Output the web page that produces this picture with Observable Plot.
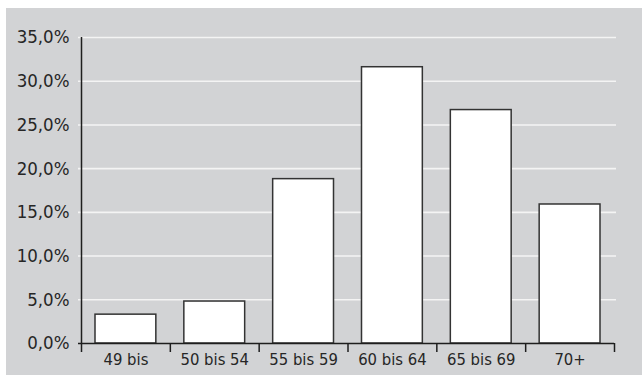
<!DOCTYPE html>
<html>
<head>
<meta charset="utf-8">
<script src="https://cdn.jsdelivr.net/npm/d3@7"></script>
<script src="https://cdn.jsdelivr.net/npm/@observablehq/plot@0.6"></script>
<style>
  html, body { margin: 0; padding: 0; background: #ffffff; }
  #wrap { position: relative; width: 642px; height: 379px; }
  #bg { position: absolute; left: 6px; top: 8px; width: 636px; height: 367px; background: #d2d3d5; }
  #chart { position: absolute; left: 0; top: 0; width: 642px; height: 379px; }
  #chart svg text { font-stretch: condensed; }
</style>
</head>
<body>
<div id="wrap"><div id="bg"></div><div id="chart"></div></div>
<script>
const categories = ["49 bis", "50 bis 54", "55 bis 59", "60 bis 64", "65 bis 69", "70+"];
const shares = [3.3, 4.8, 18.8, 31.6, 26.7, 15.9];
const yTicks = [0, 5, 10, 15, 20, 25, 30, 35];

const n = categories.length;
const data = categories.map((c, i) => ({cat: c, i, value: shares[i]}));
const bounds = d3.range(n + 1);

const W = 642, H = 379, ML = 81, MR = 28, MT = 37, MB = 36;
const font = "'DejaVu Sans Condensed', 'DejaVu Sans', sans-serif";
const fmt = d => d.toFixed(1).replace(".", ",") + "%";

const plot = Plot.plot({
  width: W, height: H,
  marginLeft: ML, marginRight: MR, marginTop: MT, marginBottom: MB,
  style: {background: "transparent", fontFamily: font, color: "#262626"},
  x: {domain: [0, n], label: null},
  y: {domain: [0, 35], label: null},
  marks: [
    Plot.ruleY(yTicks.filter(d => d > 0), {y: d => d, stroke: "#f4f4f4", strokeWidth: 1.6, insetLeft: -3, insetRight: -2}),
    Plot.rectY(data, {x1: d => d.i, x2: d => d.i + 1, y: "value", fill: "#ffffff", stroke: "#333333", strokeWidth: 1.5, insetLeft: 14, insetRight: 14}),
    Plot.ruleY([0], {stroke: "#1e1e1e", strokeWidth: 1.5, insetLeft: -3}),
    Plot.ruleX([0], {x: d => d, y1: 0, y2: 35, stroke: "#1e1e1e", strokeWidth: 1.5}),
    Plot.ruleX(bounds, {x: d => d, y1: 0, y2: 0, stroke: "#1e1e1e", strokeWidth: 1.5, insetBottom: -9}),
    Plot.axisY({ticks: yTicks, tickFormat: fmt, tickSize: 0, tickPadding: 12, fontSize: 18.5, label: null}),
    Plot.axisX({ticks: data.map(d => d.i + 0.5), tickFormat: v => categories[Math.floor(v)], tickSize: 0, tickPadding: 10, fontSize: 16.5, label: null})
  ]
});

document.getElementById("chart").appendChild(plot);
</script>
</body>
</html>
